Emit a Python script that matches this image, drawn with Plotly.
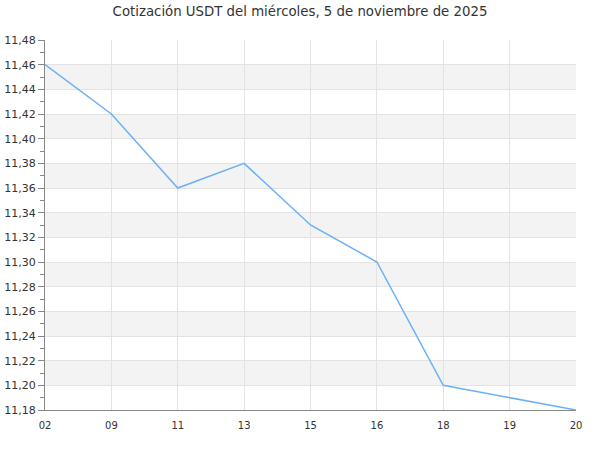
import plotly.graph_objects as go

categories = ["02", "09", "11", "13", "15", "16", "18", "19", "20"]
values = [11.46, 11.42, 11.36, 11.38, 11.33, 11.30, 11.20, 11.19, 11.18]
y_min, y_max, y_step = 11.18, 11.48, 0.02

fig = go.Figure()
fig.add_trace(go.Scatter(x=categories, y=values, mode="lines",
                         line=dict(color="#6cb0f6", width=1.5), hoverinfo="x+y"))

shapes = []
n = int(round((y_max - y_min) / y_step))
for i in range(n):
    lo = y_min + i * y_step
    if i % 2 == 1:
        shapes.append(dict(type="rect", xref="paper", yref="y", x0=0, x1=1,
                           y0=lo, y1=lo + y_step, fillcolor="#f3f3f3",
                           line=dict(width=0), layer="below"))

fig.update_layout(
    width=600, height=450,
    paper_bgcolor="white", plot_bgcolor="white",
    separators=",.",
    font=dict(family="DejaVu Sans", size=11, color="#333"),
    title=dict(text="Cotización USDT del miércoles, 5 de noviembre de 2025",
               x=0.5, xanchor="center", y=1 - 11 / 450, yanchor="middle",
               font=dict(size=13.3, color="#333"), automargin=False),
    margin=dict(l=45, r=24, t=40, b=40, autoexpand=False),
    showlegend=False,
    shapes=shapes,
    xaxis=dict(type="category", range=[0, len(categories) - 1],
               showgrid=True, gridcolor="#e3e3e3", gridwidth=1,
               showline=True, linecolor="#888", linewidth=1, automargin=False,
               ticks="", tickfont=dict(size=10), zeroline=False,
               ticklabelstandoff=6),
    yaxis=dict(range=[y_min, y_max], dtick=y_step, tick0=y_min, tickformat=".2f",
               showgrid=True, gridcolor="#e3e3e3", gridwidth=1,
               showline=True, linecolor="#888", linewidth=1, automargin=False,
               ticks="outside", ticklen=6, tickcolor="#888",
               minor=dict(dtick=y_step / 2, ticks="outside", ticklen=4,
                          tickcolor="#888", showgrid=False),
               zeroline=False, tickfont=dict(size=11)),
)

fig.write_html("out.html", config={"displayModeBar": False},
               post_script="document.body.style.margin='0';")
